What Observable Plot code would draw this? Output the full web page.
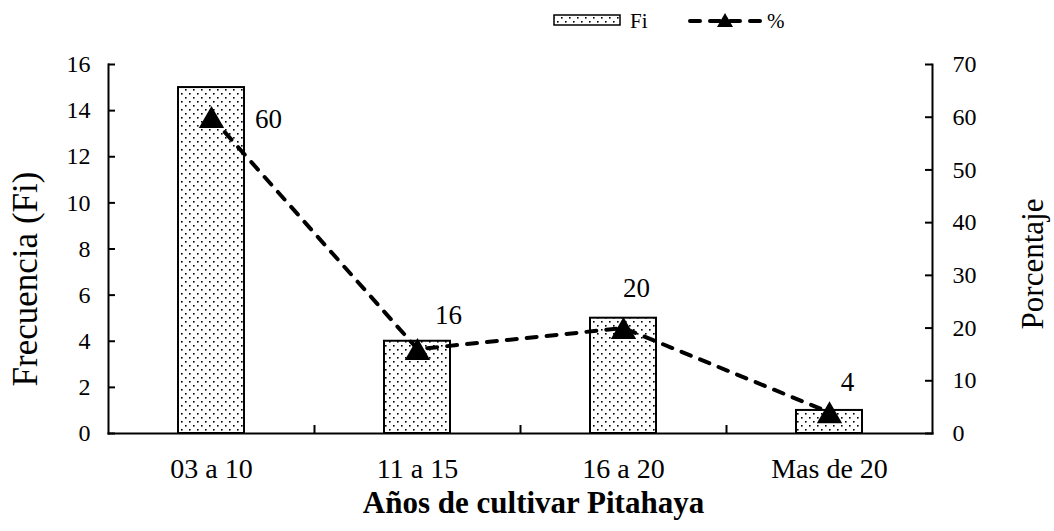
<!DOCTYPE html>
<html><head><meta charset="utf-8">
<script src="https://cdn.jsdelivr.net/npm/d3@7"></script>
<script src="https://cdn.jsdelivr.net/npm/@observablehq/plot@0.6"></script>
<style>
body{margin:0;background:#fff;font-family:"Liberation Serif","Times New Roman",serif;}
#wrap{width:1054px;height:531px;position:relative;overflow:hidden;background:#fff;}
#legend{height:40px;}
#legend svg,#chart svg{display:block;}
</style></head><body>
<div id="wrap"><div id="legend"></div><div id="chart"></div></div>
<script>
// ---- data ----
const categories = ["03 a 10", "11 a 15", "16 a 20", "Mas de 20"];
const fi = [15, 4, 5, 1];
const pct = [60, 16, 20, 4];
const fiTicks = [0, 2, 4, 6, 8, 10, 12, 14, 16];
const pctTicks = [0, 10, 20, 30, 40, 50, 60, 70];
const seriesNames = ["Fi", "%"];
const xTitle = "Años de cultivar Pitahaya";
const yTitle = "Frecuencia (Fi)";
const y2Title = "Porcentaje";

// ---- build ----
const FI_MAX = 16, PCT_MAX = 70;
const toFi = p => p * FI_MAX / PCT_MAX;
const rows = categories.map((c, i) => ({cat: c, fi: fi[i], pct: pct[i]}));
const labelOffsets = [[57, 2], [31, -34], [13, -40], [18, -30]];

const W = 1054, H = 491;
const mL = 108, mR = 122, mT = 24, mB = 98;
const innerW = W - mL - mR, innerH = H - mT - mB;
const stepPx = innerW / categories.length;
const FONT = '"Liberation Serif","Times New Roman",serif';

const patternDef = id => `<pattern id="${id}" width="8" height="8" patternUnits="userSpaceOnUse"><rect width="8" height="8" fill="white"/><rect x="1" y="1" width="1.6" height="1.6" fill="black"/><rect x="5" y="5" width="1.6" height="1.6" fill="black"/></pattern>`;

const chart = Plot.plot({
  width: W, height: H,
  marginLeft: mL, marginRight: mR, marginTop: mT, marginBottom: mB,
  style: {fontFamily: FONT, fontSize: "24px", color: "black", background: "white"},
  x: {type: "band", domain: categories, paddingInner: 0.68, paddingOuter: 0.34},
  y: {domain: [0, FI_MAX]},
  marks: [
    Plot.barY(rows, {x: "cat", y: "fi", fill: "url(#dotpat)", stroke: "black", strokeWidth: 2}),
    Plot.frame({anchor: "left", strokeWidth: 2}),
    Plot.frame({anchor: "right", strokeWidth: 2}),
    Plot.frame({anchor: "bottom", strokeWidth: 2}),
    Plot.tickY(fiTicks, {y: d => d, insetRight: innerW - 7, strokeWidth: 2}),
    Plot.tickY(pctTicks.map(toFi), {y: d => d, insetLeft: innerW - 7, strokeWidth: 2}),
    Plot.tickX(categories.slice(0, -1), {x: d => d, dx: stepPx / 2, insetTop: innerH - 8, strokeWidth: 2}),
    Plot.axisY({anchor: "left", ticks: fiTicks, tickSize: 0, tickPadding: 18, fontSize: 24, label: null}),
    Plot.axisY({anchor: "right", ticks: pctTicks.map(toFi), tickFormat: d => String(Math.round(d * PCT_MAX / FI_MAX)), tickSize: 0, tickPadding: 20, fontSize: 24, label: null}),
    Plot.axisX({tickSize: 0, tickPadding: 25, fontSize: 28, label: null}),
    Plot.line(rows, {x: "cat", y: d => toFi(d.pct), stroke: "black", strokeWidth: 4, strokeDasharray: "10,10", strokeLinecap: "round"}),
    Plot.dot(rows, {x: "cat", y: d => toFi(d.pct), symbol: "triangle", r: 9.4, fill: "black", stroke: "none", dy: 3.5}),
    ...rows.map((d, i) => Plot.text([d], {x: "cat", y: r => toFi(r.pct), text: r => String(r.pct), dx: labelOffsets[i][0], dy: labelOffsets[i][1], fontSize: 27, fill: "black"})),
    Plot.text([yTitle], {frameAnchor: "left", textAnchor: "middle", text: d => d, rotate: -90, dx: -83, dy: 30, fontSize: 35, fill: "black"}),
    Plot.text([y2Title], {frameAnchor: "right", textAnchor: "middle", text: d => d, rotate: -90, dx: 101, dy: 15, fontSize: 31, fill: "black"}),
    Plot.text([xTitle], {frameAnchor: "bottom", textAnchor: "middle", text: d => d, dx: 13, dy: 79, fontSize: 31, fontWeight: "bold", fill: "black"})
  ]
});
const NS = "http://www.w3.org/2000/svg";
const defs = document.createElementNS(NS, "defs");
defs.innerHTML = patternDef("dotpat");
chart.insertBefore(defs, chart.firstChild);
document.getElementById("chart").appendChild(chart);

// ---- legend ----
const lg = d3.select("#legend").append("svg").attr("width", W).attr("height", 40)
  .style("font-family", FONT);
lg.append("defs").html(patternDef("dotpat2"));
lg.append("rect").attr("x", 554).attr("y", 15).attr("width", 66).attr("height", 10)
  .attr("fill", "url(#dotpat2)").attr("stroke", "black").attr("stroke-width", 1.5);
lg.append("text").attr("x", 630).attr("y", 28).attr("font-size", 21).text(seriesNames[0]);
lg.append("line").attr("x1", 690).attr("x2", 760).attr("y1", 21).attr("y2", 21)
  .attr("stroke", "black").attr("stroke-width", 4).attr("stroke-dasharray", "10,10").attr("stroke-linecap", "round");
lg.append("path").attr("d", "M725,13L733,27L717,27Z").attr("fill", "black");
lg.append("text").attr("x", 767).attr("y", 28).attr("font-size", 21).text(seriesNames[1]);
</script>
</body></html>
